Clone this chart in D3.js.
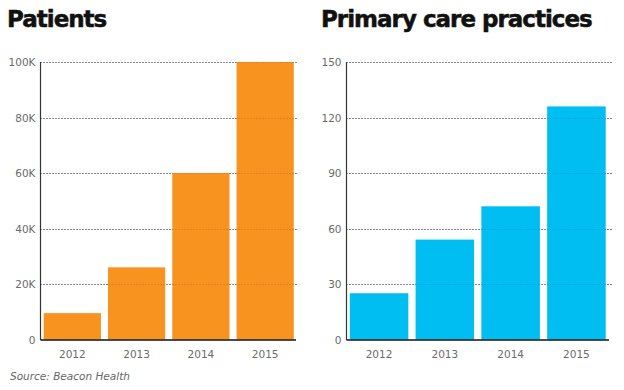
<!DOCTYPE html>
<html><head><meta charset="utf-8">
<script src="https://cdn.jsdelivr.net/npm/d3@7"></script>
<style>
body{margin:0;background:#fff;}
svg{display:block;}
</style></head>
<body>
<svg id="chart" width="624" height="390"></svg>
<script>
const years = ["2012","2013","2014","2015"];
const patients = [9500, 26000, 60000, 100000];
const practices = [25, 54, 72, 126];
const patientTicks = [0, 20000, 40000, 60000, 80000, 100000];
const practiceTicks = [0, 30, 60, 90, 120, 150];
const titles = ["Patients", "Primary care practices"];
const source = "Source: Beacon Health";

const svg = d3.select("#chart");
const font = "DejaVu Sans, Verdana, sans-serif";

function panel(opts){
  const g = svg.append("g");
  const y = d3.scaleLinear().domain([0, opts.max]).range([339.5, 62]);
  const x = d3.scaleBand().domain(years).range([opts.x0, opts.x1])
    .paddingInner(0.11).paddingOuter(0.05);

  const gridTicks = opts.ticks.filter(t => t > 0);
  function grid(cls, opacity){
    g.selectAll("line." + cls).data(gridTicks).enter()
      .append("line").attr("class", cls)
      .attr("x1", opts.x0).attr("x2", opts.gx)
      .attr("y1", d => Math.round(y(d)) + 0.5).attr("y2", d => Math.round(y(d)) + 0.5)
      .attr("stroke", "#111").attr("stroke-opacity", opacity)
      .attr("stroke-width", 1).attr("stroke-dasharray", "1,2");
  }
  grid("gridback", 0.85);

  // bars
  g.selectAll("rect").data(opts.values).enter().append("rect")
    .attr("x", (d,i) => x(years[i]))
    .attr("width", x.bandwidth())
    .attr("y", d => y(d))
    .attr("height", d => y(0) - y(d))
    .attr("fill", opts.color);

  grid("gridfront", 0.2);

  // y axis line
  g.append("line").attr("x1", opts.x0).attr("x2", opts.x0)
    .attr("y1", 62).attr("y2", 340)
    .attr("stroke", "#333").attr("stroke-width", 1.2);
  // x axis line
  g.append("line").attr("x1", opts.x0).attr("x2", opts.ax)
    .attr("y1", 340).attr("y2", 340)
    .attr("stroke", "#111").attr("stroke-width", 1.5);

  // y tick labels
  g.selectAll("text.yt").data(opts.ticks).enter().append("text")
    .attr("class","yt")
    .attr("x", opts.x0 - 5).attr("y", d => y(d) + 4)
    .attr("text-anchor","end")
    .attr("font-family", font).attr("font-size", "10.5px").attr("fill", "#6b6b6b")
    .text(opts.fmt);

  // x tick labels
  g.selectAll("text.xt").data(years).enter().append("text")
    .attr("class","xt")
    .attr("x", d => x(d) + x.bandwidth()/2).attr("y", 357.5)
    .attr("text-anchor","middle")
    .attr("font-family", font).attr("font-size", "10.5px").attr("fill", "#6b6b6b")
    .text(d => d);

  // title
  g.append("text").attr("x", opts.tx).attr("y", 27)
    .attr("font-family", font).attr("font-weight", "bold").attr("font-size", "23px")
    .attr("letter-spacing", "-1px").attr("fill", "#111")
    .attr("stroke", "#111").attr("stroke-width", 0.5)
    .text(opts.title);
}

panel({x0: 40.5, x1: 297, gx: 297, ax: 296, max: 100000, ticks: patientTicks, values: patients,
  color: "#F7931E", title: titles[0], tx: 7,
  fmt: d => d === 0 ? "0" : (d/1000) + "K"});
panel({x0: 346.5, x1: 609, gx: 612, ax: 609, max: 150, ticks: practiceTicks, values: practices,
  color: "#00BDF2", title: titles[1], tx: 321,
  fmt: d => String(d)});

svg.append("text").attr("x", 10).attr("y", 380)
  .attr("font-family", font).attr("font-style", "italic").attr("font-size", "10.5px")
  .attr("fill", "#666").text(source);
</script>
</body></html>
